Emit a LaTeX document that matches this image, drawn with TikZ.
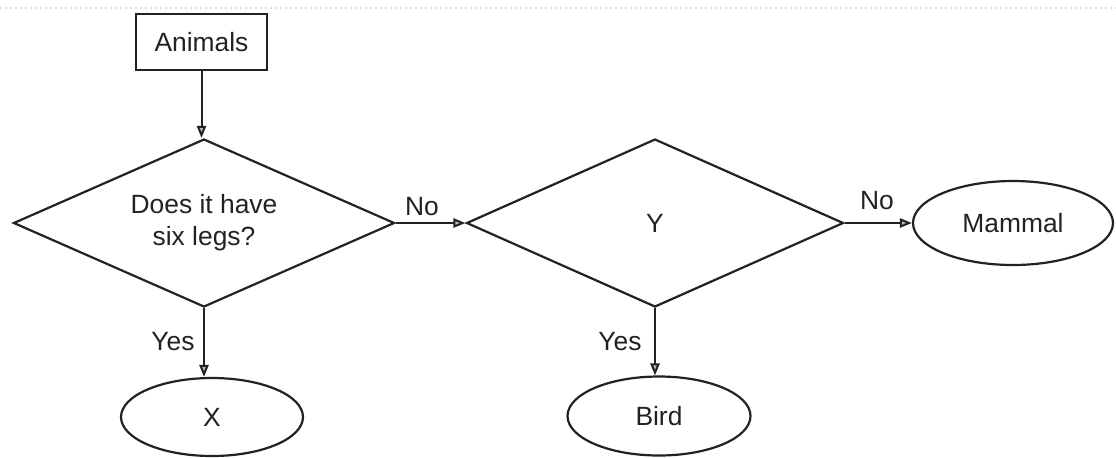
\documentclass[tikz,border=0pt]{standalone}
\usepackage{fontspec}
\setmainfont{Liberation Sans}
\usetikzlibrary{shapes.geometric,arrows.meta}
\definecolor{ink}{HTML}{222222}
\tikzset{
  every node/.style={font=\fontsize{13.2}{16}\selectfont, text=ink},
  boxnode/.style={draw=ink, line width=1.1pt, rectangle, inner sep=0pt, minimum width=65.5pt, minimum height=28pt},
  decide/.style={draw=ink, line width=1.1pt, diamond, aspect=2.25, inner sep=0pt, align=center},
  endnode/.style={draw=ink, line width=1.1pt, ellipse, inner sep=0pt},
  lbl/.style={inner sep=0pt},
  arr/.style={draw=ink, line width=1pt, -{Triangle[length=6pt,width=4.6pt,fill=gray!55]}}
}
\begin{document}
\begin{tikzpicture}[x=0.5pt,y=-0.5pt]
\useasboundingbox (0,0) rectangle (1116,457);
% faint scan line at the top
\draw[gray!25, line width=0.8pt, dash pattern=on 1pt off 1.5pt] (0,8) -- (1116,8);

\node[boxnode] (animals) at (201.5,42) {Animals};
\node[decide, minimum width=190.5pt, minimum height=84pt] (d1) at (204,223) {Does it have\\six legs?};
\node[decide, minimum width=188.5pt, minimum height=84pt] (d2) at (655,223) {Y};
\node[endnode, minimum width=91pt, minimum height=39pt] (x) at (212,417) {X};
\node[endnode, minimum width=91.5pt, minimum height=39.5pt] (bird) at (659,416) {Bird};
\node[endnode, minimum width=100pt, minimum height=42pt] (mammal) at (1013,223) {Mammal};

\node[lbl] (no1) at (422,207) {No};
\node[lbl] (no2) at (877,201) {No};
\node[lbl] (yes1) at (173,342) {Yes};
\node[lbl] (yes2) at (620,342) {Yes};

\draw[arr] (animals.south) -- (animals.south |- d1.north);
\draw[arr] (d1.east) -- (d2.west);
\draw[arr] (d2.east) -- (mammal.west);
\draw[arr] (d1.south) -- (d1.south |- x.north);
\draw[arr] (d2.south) -- (d2.south |- bird.north);
\end{tikzpicture}
\end{document}
